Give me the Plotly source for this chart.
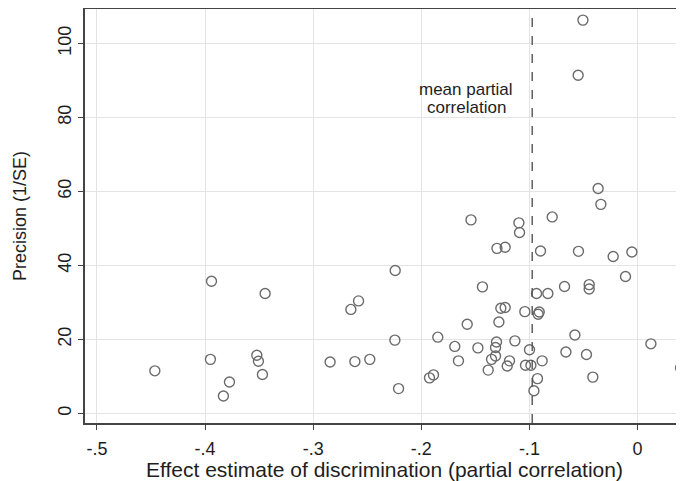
import plotly.graph_objects as go

# Effect estimates (partial correlation) and precision (1/SE)
effect = [-0.0505, -0.0549, -0.0364, -0.0339, -0.0789, -0.1540, -0.1097, -0.1091,
          -0.1300, -0.1224, -0.0897, -0.0546, -0.0225, -0.0052, -0.2241, -0.0111,
          -0.2580, -0.1434, -0.0675, -0.0447, -0.0447, -0.0934, -0.0829, -0.1264,
          -0.1224, -0.1042, -0.0909, -0.0919, -0.1282, -0.1575, -0.1847, -0.2244,
          -0.1304, -0.1134, -0.0579, 0.0124, -0.1690, -0.1476, -0.1313, -0.0999,
          -0.0662, -0.0472, -0.2476, -0.1313, -0.1350, -0.1656, -0.1184, -0.0882,
          -0.1205, -0.1036, -0.0986, -0.1381, 0.0398, -0.1887, -0.1924, -0.0925,
          -0.0413, -0.2210, -0.0958, -0.3940, -0.3444, -0.2651, -0.4464, -0.3950,
          -0.3521, -0.3506, -0.3469, -0.3774, -0.3830, -0.2843, -0.2614]
precision = [106.3, 91.4, 60.8, 56.5, 53.1, 52.3, 51.5, 48.9,
             44.6, 44.9, 43.9, 43.8, 42.4, 43.6, 38.6, 37.0,
             30.4, 34.2, 34.3, 34.8, 33.6, 32.4, 32.4, 28.4,
             28.6, 27.5, 27.4, 26.8, 24.7, 24.1, 20.6, 19.8,
             19.3, 19.6, 21.2, 18.8, 18.1, 17.7, 17.8, 17.2,
             16.6, 15.9, 14.6, 15.5, 14.6, 14.2, 14.2, 14.2,
             12.8, 13.0, 13.0, 11.7, 12.3, 10.4, 9.6, 9.4,
             9.8, 6.7, 6.1, 35.7, 32.4, 28.1, 11.5, 14.6,
             15.7, 14.1, 10.5, 8.5, 4.7, 13.9, 14.0]

mean_partial = -0.0974
x_ticks = [-0.5, -0.4, -0.3, -0.2, -0.1, 0.0]
x_tick_labels = ["-.5", "-.4", "-.3", "-.2", "-.1", "0"]
y_ticks = [0, 20, 40, 60, 80, 100]
y_tick_labels = ["0", "20", "40", "60", "80", "100"]

FONT = "Liberation Sans, Arial, sans-serif"
TXT = "#1e1e1e"

fig = go.Figure()
fig.add_trace(go.Scatter(
    x=effect, y=precision, mode="markers",
    marker=dict(symbol="circle-open", size=10, color="#6b6b6b", line=dict(width=1.4, color="#6b6b6b")),
    showlegend=False, hoverinfo="x+y",
))

fig.add_shape(type="line", xref="x", yref="paper", x0=mean_partial, x1=mean_partial, y0=0, y1=1,
              line=dict(color="#555555", width=1.4, dash="dash"))

for txt, yv in [("mean partial", 87.5), ("correlation", 82.6)]:
    fig.add_annotation(x=-0.1585, y=yv, xref="x", yref="y", text=txt,
                       showarrow=False, font=dict(family=FONT, size=17, color=TXT),
                       xanchor="center", yanchor="middle", align="center")

# the page body adds an 8px offset, so the figure is sized to end at the window edge
fig.update_layout(
    width=676, height=473,
    margin=dict(l=77, r=0, t=1, b=58),
    plot_bgcolor="white", paper_bgcolor="white",
    font=dict(family=FONT, size=16, color=TXT),
)
fig.update_xaxes(
    range=[-0.511, 0.043], tickvals=x_ticks, ticktext=x_tick_labels, automargin=False,
    showgrid=True, gridcolor="#e4e4e4", gridwidth=1.4, zeroline=False,
    showline=True, linecolor="#444444", linewidth=1.5, mirror=True,
    ticks="outside", ticklen=5, tickcolor="#444444", tickwidth=1.2,
    ticklabelstandoff=4,
    tickfont=dict(family=FONT, size=18, color=TXT),
    title=dict(text="Effect estimate of discrimination (partial correlation)",
               font=dict(family=FONT, size=21, color=TXT), standoff=0),
)
fig.update_yaxes(
    range=[-2.6, 109.3], tickvals=y_ticks, ticktext=y_tick_labels, tickangle=-90, automargin=False,
    showgrid=True, gridcolor="#e4e4e4", gridwidth=1.4, zeroline=False,
    showline=True, linecolor="#444444", linewidth=1.5, mirror=False,
    ticks="outside", ticklen=5, tickcolor="#444444", tickwidth=1.2,
    tickfont=dict(family=FONT, size=18, color=TXT),
    title=dict(text="Precision (1/SE)", font=dict(family=FONT, size=18, color=TXT), standoff=24),
)

fig.write_html("out.html")
